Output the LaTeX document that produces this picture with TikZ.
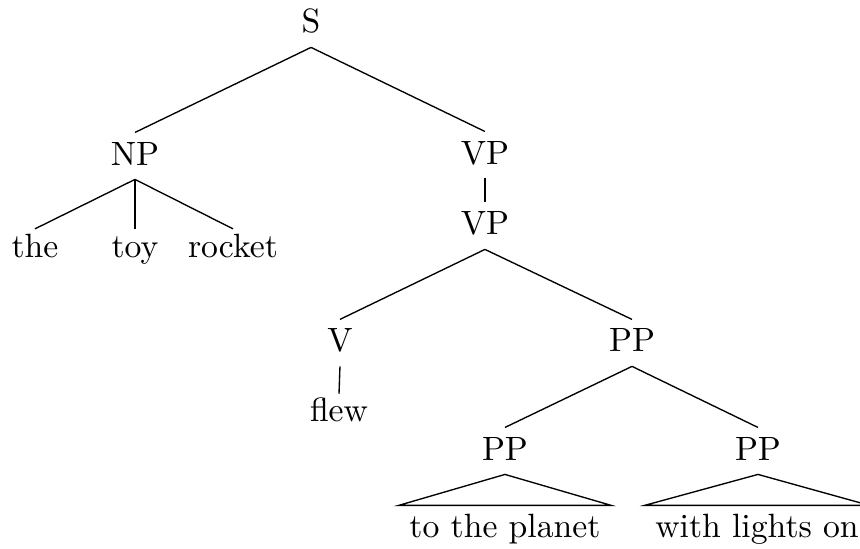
\documentclass[tikz,border=0pt]{standalone}
\usepackage{tikz}
\usetikzlibrary{positioning}

\begin{document}
\begin{tikzpicture}[
    cat/.style={anchor=base, inner sep=3pt, text height=1.5ex, text depth=.25ex},
    word/.style={cat, text height=1.2ex},
    edge/.style={draw=black, line width=0.4pt},
]
\useasboundingbox (0,0) rectangle (8.970,-5.716);

% Top level
\node[cat] (s) at (3.244,-0.344) {S};
\node[cat] (np) at (1.408,-1.721) {NP};
\node[cat] (vp) at (5.058,-1.711) {VP};

\draw[edge] (s.south) -- (np.north);
\draw[edge] (s.south) -- (vp.north);

% Subject noun phrase
\node[word] (the) at (0.365,-2.681) {the};
\node[word] (toy) at (1.408,-2.681) {toy};
\node[word] (rocket) at (2.430,-2.681) {rocket};

\draw[edge] (np.south) -- (the.north);
\draw[edge] (np.south) -- (toy.north);
\draw[edge] (np.south) -- (rocket.north);

% Verb phrase
\node[cat] (vpi) at (5.058,-2.451) {VP};
\draw[edge] (vp.south) -- (vpi.north);

\node[cat] (v) at (3.546,-3.671) {V};
\node[cat] (pp) at (6.592,-3.671) {PP};
\draw[edge] (vpi.south) -- (v.north);
\draw[edge] (vpi.south) -- (pp.north);

\node[word] (flew) at (3.536,-4.401) {flew};
\draw[edge] (v.south) -- (flew.north);

% Prepositional phrases
\node[cat] (ppa) at (5.267,-4.798) {PP};
\node[cat] (ppb) at (7.906,-4.798) {PP};
\draw[edge] (pp.south) -- (ppa.north);
\draw[edge] (pp.south) -- (ppb.north);

\node[cat] (planet) at (5.267,-5.611) {to the planet};
\node[cat] (lights) at (7.896,-5.611) {with lights on};

% Roofs
\draw[edge] (ppa.south) -- (planet.north west) -- (planet.north east) -- cycle;
\draw[edge] (ppb.south) -- (lights.north west) -- (lights.north east) -- cycle;

\end{tikzpicture}
\end{document}
